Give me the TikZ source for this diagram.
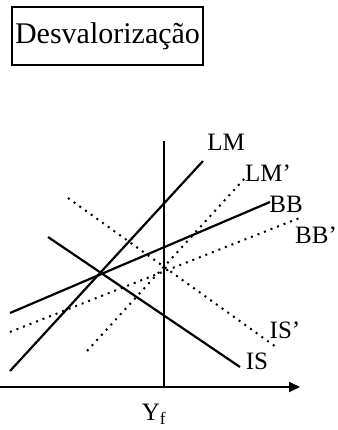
\documentclass[tikz,border=0pt]{standalone}
\usepackage{fontspec}
\setmainfont{Liberation Serif}
\usepackage{tikz}
\usetikzlibrary{arrows.meta,positioning,calc}

\begin{document}
\begin{tikzpicture}[
            x=1pt, y=-1pt,
            every node/.style={font=\fontsize{25}{27}\selectfont, inner sep=0pt},
            curve/.style={line width=2.2pt},
            shifted/.style={line width=2pt, dash pattern=on 2pt off 5pt},
            axisline/.style={line width=2pt},
        ]
            \useasboundingbox (0,0) rectangle (337,430);
            % title
            \node[draw, line width=1.4pt, minimum width=191pt, minimum height=58pt,
                  font=\fontsize{30}{32}\selectfont] (title) at (107.5,36) {Desvalorização};
            % axes
            \coordinate (origin) at (0,387);
            \coordinate (xend) at (300,387);
            \coordinate (yf) at (164,388);
            \coordinate (yftop) at (164,141);
            \draw[axisline, -{Triangle[length=11pt, width=10pt]}] (origin) -- (xend);
            \draw[axisline] (yf) -- (yftop);
            \node (yflabel) at (154,414) {Y$_{\mathrm{f}}$};
            % solid curves
            \coordinate (lm-a) at (10,371);
            \coordinate (lm-b) at (203,161);
            \coordinate (bb-a) at (10,313);
            \coordinate (bb-b) at (270,202);
            \coordinate (is-a) at (48,237);
            \coordinate (is-b) at (240,367);
            \draw[curve] (lm-a) -- (lm-b);
            \draw[curve] (bb-a) -- (bb-b);
            \draw[curve] (is-a) -- (is-b);
            % dotted curves after the devaluation
            \coordinate (lmp-a) at (87,351);
            \coordinate (lmp-b) at (245,178);
            \coordinate (bbp-a) at (10,332);
            \coordinate (bbp-b) at (302,217);
            \coordinate (isp-a) at (68,198);
            \coordinate (isp-b) at (276,347);
            \draw[shifted] (lmp-a) -- (lmp-b);
            \draw[shifted] (bbp-a) -- (bbp-b);
            \draw[shifted] (isp-a) -- (isp-b);
            % labels
            \node (lm) at (226,142) {LM};
            \node (lmp) at (268,173) {LM’};
            \node (bb) at (286,204) {BB};
            \node (bbp) at (316,235) {BB’};
            \node (isp) at (285,330) {IS’};
            \node (is) at (257,361) {IS};
        \end{tikzpicture}
\end{document}
